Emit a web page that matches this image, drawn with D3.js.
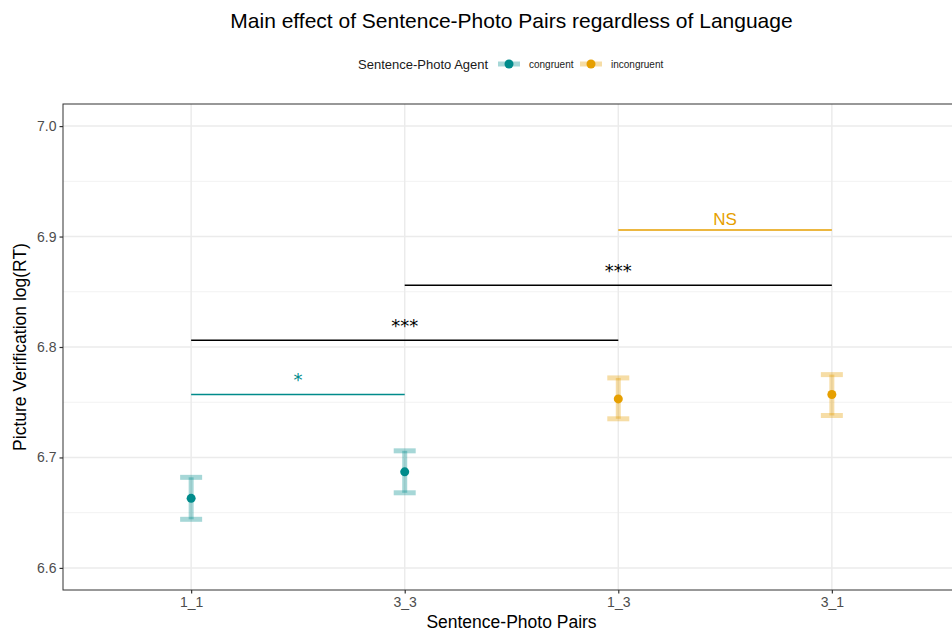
<!DOCTYPE html>
<html><head><meta charset="utf-8">
<script src="https://cdn.jsdelivr.net/npm/d3@7"></script>
<style>body{margin:0;background:#fff}svg{display:block;font-family:"Liberation Sans",Arial,sans-serif}</style>
</head><body><svg id="c" width="952" height="631"></svg>
<script>
const categories = ["1_1","3_3","1_3","3_1"];
const groups = ["congruent","congruent","incongruent","incongruent"];
const means = [6.663, 6.687, 6.753, 6.757];
const upper = [6.682, 6.706, 6.772, 6.775];
const lower = [6.644, 6.668, 6.735, 6.738];
const yTicks = [6.6, 6.7, 6.8, 6.9, 7.0];
const yMinor = [6.65, 6.75, 6.85, 6.95];
const brackets = [
  {from:"1_1", to:"3_3", y:6.757, label:"*", color:"teal"},
  {from:"1_1", to:"1_3", y:6.806, label:"***", color:"black"},
  {from:"3_3", to:"3_1", y:6.856, label:"***", color:"black"},
  {from:"1_3", to:"3_1", y:6.906, label:"NS", color:"orange"}
];
const colors = {congruent:"#008B8B", incongruent:"#E69F00", teal:"#008B8B", orange:"#E69F00", black:"#000000"};

const svg = d3.select("#c");
const L = 63, R = 960, T = 104, B = 590;
const n = categories.length;
const step = (R - L) / (n - 1 + 1.2);
const x = d3.scalePoint().domain(categories).range([L + 0.6*step, R - 0.6*step]);
const y = d3.scaleLinear().domain([6.58, 7.02]).range([B, T]);

svg.append("rect").attr("x",L).attr("y",T).attr("width",R-L).attr("height",B-T).attr("fill","#fff");
const g = svg.append("g");
g.selectAll(".ymin").data(yMinor).join("line").attr("x1",L).attr("x2",R)
  .attr("y1",d=>y(d)).attr("y2",d=>y(d)).attr("stroke","#F2F2F2").attr("stroke-width",1);
g.selectAll(".ymaj").data(yTicks).join("line").attr("x1",L).attr("x2",R)
  .attr("y1",d=>y(d)).attr("y2",d=>y(d)).attr("stroke","#EBEBEB").attr("stroke-width",1.5);
g.selectAll(".xmaj").data(categories).join("line").attr("y1",T).attr("y2",B)
  .attr("x1",d=>x(d)).attr("x2",d=>x(d)).attr("stroke","#EBEBEB").attr("stroke-width",1.5);

brackets.forEach(b=>{
  svg.append("line").attr("x1",x(b.from)).attr("x2",x(b.to)).attr("y1",y(b.y)).attr("y2",y(b.y))
    .attr("stroke",colors[b.color]).attr("stroke-width",1.5);
  const t = svg.append("text").attr("x",(x(b.from)+x(b.to))/2).attr("text-anchor","middle")
    .attr("fill",colors[b.color]).text(b.label);
  if (b.label === "NS") t.attr("y", y(b.y)-5).attr("font-size",17);
  else t.attr("y", y(b.y)-8).attr("font-size",18).attr("font-family","DejaVu Sans");
});

const capW = 11;
categories.forEach((c,i)=>{
  const col = colors[groups[i]];
  const gg = svg.append("g").attr("stroke",col).attr("stroke-opacity",0.35).attr("stroke-width",5);
  gg.append("line").attr("x1",x(c)).attr("x2",x(c)).attr("y1",y(upper[i])).attr("y2",y(lower[i]));
  gg.append("line").attr("x1",x(c)-capW).attr("x2",x(c)+capW).attr("y1",y(upper[i])).attr("y2",y(upper[i]));
  gg.append("line").attr("x1",x(c)-capW).attr("x2",x(c)+capW).attr("y1",y(lower[i])).attr("y2",y(lower[i]));
  svg.append("circle").attr("cx",x(c)).attr("cy",y(means[i])).attr("r",4.5).attr("fill",col);
});

svg.append("rect").attr("x",L).attr("y",T).attr("width",R-L).attr("height",B-T)
  .attr("fill","none").attr("stroke","#333333").attr("stroke-width",1);

const ya = svg.append("g").attr("transform",`translate(${L},0)`)
  .call(d3.axisLeft(y).tickValues(yTicks).tickFormat(d3.format(".1f")).tickSize(3.5).tickPadding(3));
const xa = svg.append("g").attr("transform",`translate(0,${B})`)
  .call(d3.axisBottom(x).tickSize(3.5).tickPadding(4));
[ya,xa].forEach(a=>{
  a.select(".domain").remove();
  a.selectAll("line").attr("stroke","#333333").attr("stroke-width",1.2);
  a.selectAll("text").attr("fill","#4D4D4D").attr("font-size",14).attr("font-family","Liberation Sans, Arial, sans-serif");
});

svg.append("text").attr("x",(L+R)/2).attr("y",28).attr("text-anchor","middle")
  .attr("font-size",21).attr("fill","#000").text("Main effect of Sentence-Photo Pairs regardless of Language");
svg.append("text").attr("x",(L+R)/2).attr("y",628).attr("text-anchor","middle")
  .attr("font-size",17.5).attr("fill","#000").text("Sentence-Photo Pairs");
svg.append("text").attr("transform",`translate(26,${(T+B)/2}) rotate(-90)`).attr("text-anchor","middle")
  .attr("font-size",17.5).attr("fill","#000").text("Picture Verification log(RT)");

const lg = svg.append("g");
lg.append("text").attr("x",358).attr("y",68.5).attr("font-size",13).attr("fill","#1a1a1a").text("Sentence-Photo Agent");
const keys = [{k:"congruent",x:498},{k:"incongruent",x:580}];
keys.forEach(o=>{
  lg.append("line").attr("x1",o.x).attr("x2",o.x+22).attr("y1",64).attr("y2",64)
    .attr("stroke",colors[o.k]).attr("stroke-opacity",0.35).attr("stroke-width",5);
  lg.append("circle").attr("cx",o.x+11).attr("cy",64).attr("r",4.5).attr("fill",colors[o.k]);
  lg.append("text").attr("x",o.x+31).attr("y",67.5).attr("font-size",10).attr("fill","#1a1a1a").text(o.k);
});
</script></body></html>
